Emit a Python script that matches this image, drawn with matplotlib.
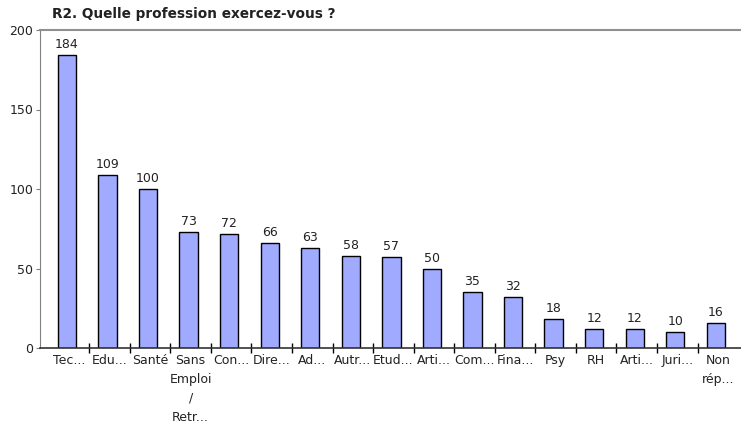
import numpy as np
import matplotlib
matplotlib.use("Agg")
import matplotlib.pyplot as plt

labels = ["Tec...", "Edu...", "Santé", "Sans\nEmploi\n/\nRetr...", "Con...",
          "Dire...", "Ad...", "Autr...", "Etud...", "Arti...", "Com...",
          "Fina...", "Psy", "RH", "Arti...", "Juri...", "Non\nrép..."]
values = [184, 109, 100, 73, 72, 66, 63, 58, 57, 50, 35, 32, 18, 12, 12, 10, 16]
yticks = [0, 50, 100, 150, 200]

plt.rcParams["font.family"] = ["DejaVu Sans"]

fig = plt.figure(figsize=(7.41, 4.25), dpi=100)
ax = fig.add_axes([40 / 741, 77 / 425, 701 / 741, 318 / 425])

x = np.arange(len(values))
bars = ax.bar(x - 0.05, values, width=0.45, color="#a0aaff",
              edgecolor="black", linewidth=1.0, zorder=2)
for b, v in zip(bars, values):
    ax.text(b.get_x() + b.get_width() / 2, v + 2.5, str(v),
            ha="center", va="bottom", fontsize=9, color="#222222")

ax.set_xlim(-0.714, 16.57)
ax.set_ylim(0, 200)
ax.set_yticks(yticks)
ax.tick_params(axis="y", direction="out", length=3, color="#808080",
               labelsize=9, labelcolor="#222222", pad=2)

ax.set_xticks(x)
ax.set_xticklabels(labels, fontsize=9, color="#222222", linespacing=1.6)
ax.tick_params(axis="x", which="major", length=0, pad=4)
ax.set_xticks(np.arange(0.5, 16, 1), minor=True)
ax.tick_params(axis="x", which="minor", direction="inout", length=7,
               color="black", width=1)

ax.spines["right"].set_visible(False)
ax.spines["left"].set_color("#808080")
ax.spines["top"].set_color("#909090")
ax.spines["top"].set_linewidth(1.5)
ax.spines["bottom"].set_color("#333333")
ax.spines["bottom"].set_linewidth(1.2)

fig.text(52 / 741, 1 - 14 / 425, "R2. Quelle profession exercez-vous ?",
         fontsize=9.8, fontweight="bold", color="#222222", ha="left", va="center")

fig.savefig("out.png", dpi=100)
